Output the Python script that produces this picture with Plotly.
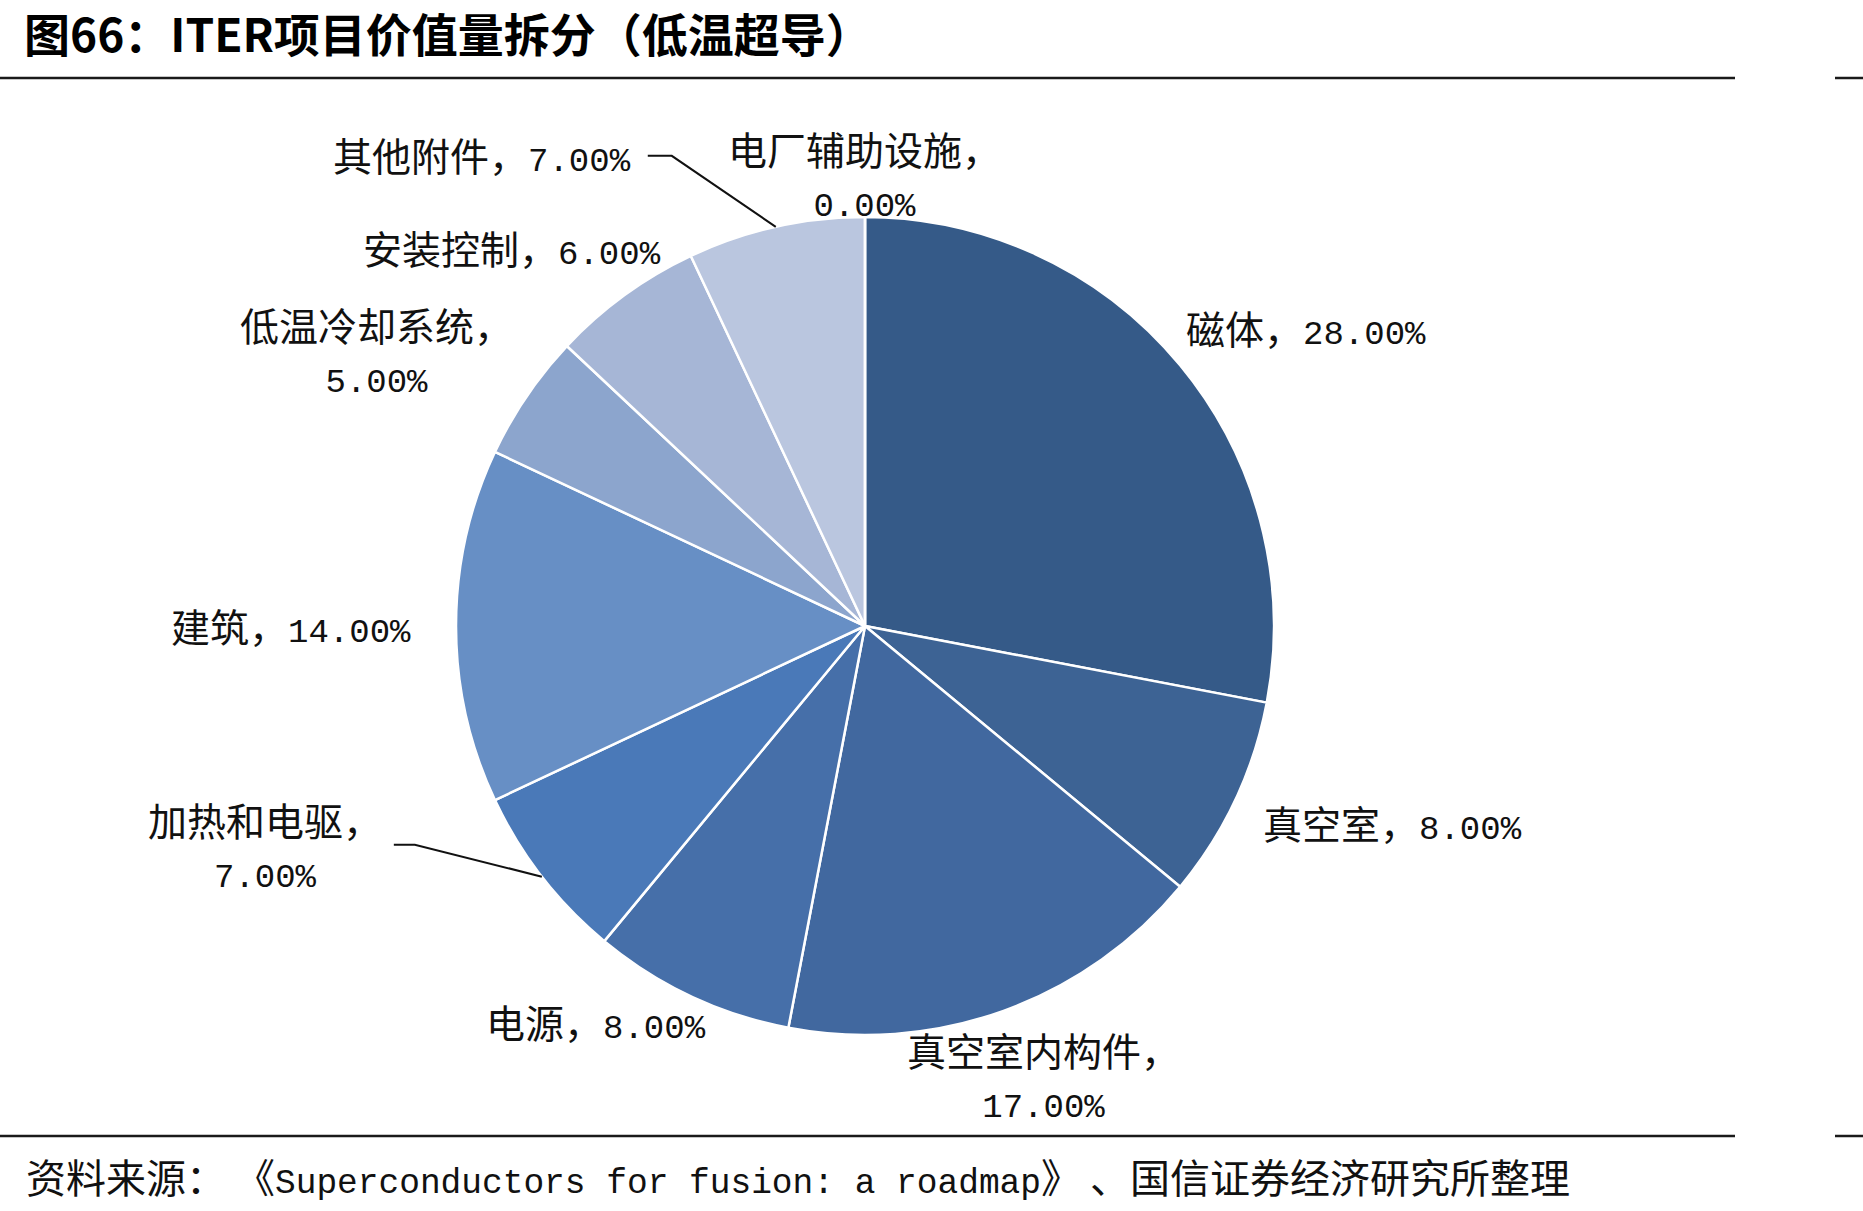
import math
import plotly.graph_objects as go

# ---------------- data ----------------
labels = ["磁体", "真空室", "真空室内构件", "电源", "加热和电驱", "建筑",
          "低温冷却系统", "安装控制", "其他附件", "电厂辅助设施"]
values = [28, 8, 17, 8, 7, 14, 5, 6, 7, 0]
colors = ["#355A88", "#3D6394", "#41689F", "#466FA9", "#4A79B8", "#678FC5",
          "#8CA5CD", "#A6B6D6", "#BAC6DF", "#C8D2E6"]

title_text = "图66：ITER项目价值量拆分（低温超导）"
source_cjk_a = "资料来源： 《"
source_latin = "Superconductors for fusion: a roadmap"
source_cjk_b = "》 、国信证券经济研究所整理"

# ---------------- layout constants (pixels) ----------------
W, H = 1863, 1211
CX, CY, R = 865, 626, 409
CJK = "Noto Sans CJK SC"
MONO = "Liberation Mono"

# label placement style: (line-break after name, xanchor, xshift, yshift)
label_style = [
    (False, "left", 4, 38),
    (False, "left", 26, -22),
    (True, "center", 40, -63),
    (False, "right", 17, -25),
    (True, "center", -277, 33),
    (False, "right", -43, 1),
    (True, "center", -150, 47),
    (False, "right", 38, 48),
    (False, "right", -143, 73),
    (True, "center", 0, 44),
]
# leader lines: index -> (start offset, elbow offset) relative to slice edge point
leaders = {8: ((-128, -71), (-104, -71)), 4: ((-148, -32), (-127, -32))}


def px(x, y):
    return x / W, 1 - y / H


total = sum(values)
fig = go.Figure()
fig.add_trace(go.Pie(
    labels=labels, values=values, sort=False, direction="clockwise", rotation=0,
    marker=dict(colors=colors, line=dict(color="white", width=2.5)),
    textinfo="none", hoverinfo="label+percent", showlegend=False,
    domain=dict(x=[(CX - R) / W, (CX + R) / W], y=[(H - CY - R) / H, (H - CY + R) / H]),
))

annotations = []
shapes = []
cum = 0
for i, (lab, v) in enumerate(zip(labels, values)):
    mid = (cum + v / 2) / total
    cum += v
    ang = 2 * math.pi * mid
    ex, ey = CX + R * math.sin(ang), CY - R * math.cos(ang)
    brk, xa, xs, ys = label_style[i]
    num = f"<span style='font-family:{MONO};font-size:34px'>{v:.2f}%</span>"
    txt = f"{lab}，" + ("<br>" if brk else "") + num
    axp, ayp = px(ex, ey)
    annotations.append(dict(
        x=axp, y=ayp, xref="paper", yref="paper", text=txt, showarrow=False,
        xanchor=xa, yanchor="middle", align="center", xshift=xs, yshift=ys,
        font=dict(family=CJK, size=39, color="#111111"),
    ))
    if i in leaders:
        (s0x, s0y), (s1x, s1y) = leaders[i]
        p0 = px(ex + s0x, ey + s0y)
        p1 = px(ex + s1x, ey + s1y)
        p2 = px(ex, ey)
        shapes.append(dict(
            type="path", xref="paper", yref="paper",
            path=f"M {p0[0]} {p0[1]} L {p1[0]} {p1[1]} L {p2[0]} {p2[1]}",
            line=dict(color="#111111", width=2),
        ))

# title
annotations.append(dict(
    x=22 / W, y=1 - 32 / H, xref="paper", yref="paper", xanchor="left", yanchor="middle",
    text=f"<b>{title_text}</b>", showarrow=False,
    font=dict(family=CJK, size=46, color="#000000"),
))
# source
annotations.append(dict(
    x=24 / W, y=1 - 1176 / H, xref="paper", yref="paper", xanchor="left", yanchor="middle",
    text=source_cjk_a + f"<span style='font-family:{MONO};font-size:34.5px'>{source_latin}</span>" + source_cjk_b,
    showarrow=False, font=dict(family=CJK, size=40, color="#111111"),
))

# horizontal rules
for yy in (78, 1136):
    for x0, x1 in ((0, 1735), (1835, 1863)):
        shapes.append(dict(type="line", xref="paper", yref="paper",
                           x0=x0 / W, x1=x1 / W, y0=1 - yy / H, y1=1 - yy / H,
                           line=dict(color="#1a1a1a", width=2.5)))

fig.update_layout(
    width=W, height=H, margin=dict(l=0, r=0, t=0, b=0),
    paper_bgcolor="white", plot_bgcolor="white",
    annotations=annotations, shapes=shapes, showlegend=False,
)

fig.write_html("out.html")
